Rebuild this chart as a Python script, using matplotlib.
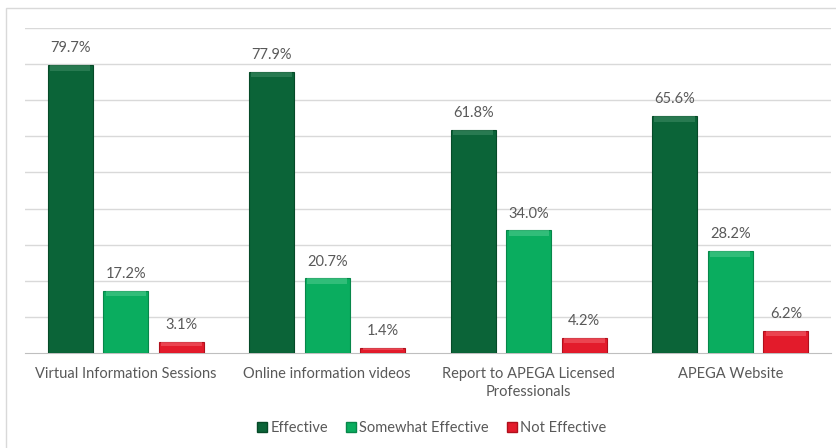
import numpy as np
import matplotlib.pyplot as plt
from matplotlib.patches import Rectangle
from matplotlib.lines import Line2D

categories = ["Virtual Information Sessions", "Online information videos",
              "Report to APEGA Licensed\nProfessionals", "APEGA Website"]
effective = [79.7, 77.9, 61.8, 65.6]
somewhat = [17.2, 20.7, 34.0, 28.2]
not_effective = [3.1, 1.4, 4.2, 6.2]
series_names = ["Effective", "Somewhat Effective", "Not Effective"]

colors = ["#0b6438", "#0aad5f", "#e31b2b"]
edges = ["#064a28", "#07874a", "#b0101c"]
highlights = ["#3d8a62", "#4cc98b", "#f2606a"]

plt.rcParams['font.family'] = ['Lato', 'DejaVu Sans']

fig = plt.figure(figsize=(8.36, 4.48), dpi=100)
ax = fig.add_axes([25 / 836, 95 / 448, 806 / 836, 325 / 448])

# outer chart frame (runs off the right and bottom edges)
fig.patches.append(Rectangle((6 / 836, -0.1), 1.0, (440 / 448) + 0.1,
                             transform=fig.transFigure, fill=False,
                             edgecolor="#d9d9d9", linewidth=1.0))

x = np.arange(len(categories))
width = 0.224
step = 0.276

for i, vals in enumerate([effective, somewhat, not_effective]):
    bars = ax.bar(x + (i - 1) * step, vals, width, color=colors[i],
                  edgecolor=edges[i], linewidth=0.8, zorder=3)
    for b, v in zip(bars, vals):
        # bevel highlight along the top of each bar
        hh = min(1.5, v * 0.35)
        ax.add_patch(Rectangle((b.get_x() + 0.012, v - hh), b.get_width() - 0.024, hh,
                               facecolor=highlights[i], edgecolor="none",
                               alpha=0.6, zorder=4))
        ax.annotate(f"{v:.1f}%", (b.get_x() + b.get_width() / 2, v),
                    xytext=(0, 7), textcoords="offset points",
                    ha="center", va="bottom", fontsize=10.5, color="#595959")

ax.set_xlim(-0.5, 3.5)
ax.set_ylim(0, 90)
ax.set_yticks(np.arange(10, 91, 10))
ax.yaxis.grid(True, color="#d9d9d9", linewidth=1.0, zorder=0)
ax.set_axisbelow(True)
ax.tick_params(axis="y", left=False, labelleft=False)
ax.tick_params(axis="x", length=0, pad=10)
ax.set_xticks(x)
ax.set_xticklabels(categories, fontsize=10.5, color="#595959", linespacing=1.35)
for s in ["top", "right", "left"]:
    ax.spines[s].set_visible(False)
ax.spines["bottom"].set_color("#bfbfbf")

handles = [Line2D([], [], marker="s", linestyle="none", markersize=6.5,
                  markerfacecolor=c, markeredgecolor=e)
           for c, e in zip(colors, edges)]
fig.legend(handles, series_names, loc="center", ncol=3, frameon=False,
           bbox_to_anchor=(432 / 836, 20 / 448), fontsize=10.5,
           handlelength=0.6, handletextpad=0.3, columnspacing=1.25,
           labelcolor="#595959")

fig.savefig("out.png", dpi=100)
